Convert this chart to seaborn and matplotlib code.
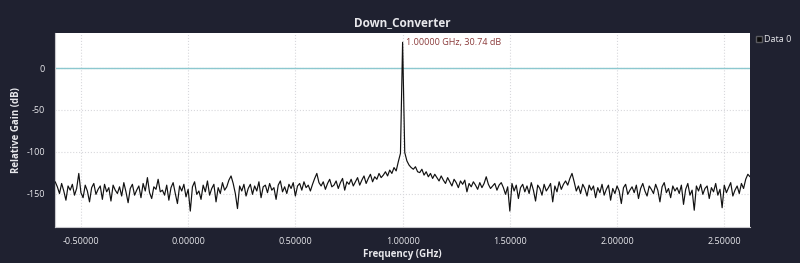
import numpy as np
import pandas as pd
import matplotlib
matplotlib.use("Agg")
import matplotlib.pyplot as plt
from matplotlib.ticker import MultipleLocator, FormatStrFormatter
from matplotlib.lines import Line2D
import seaborn as sns

title = "Down_Converter"
x_label = "Frequency (GHz)"
y_label = "Relative Gain (dB)"
series_name = "Data 0"
marker_text = "1.00000 GHz, 30.74 dB"
peak_freq = 1.0
peak_gain = 30.74
reference_level = 0.0

freq_start = -0.62
freq_step = 0.01

gain_db = [
    -136, -142, -150, -138, -147, -158, -141, -146, -139, -152,
    -144, -126, -149, -155, -140, -147, -160, -143, -138, -151,
    -145, -141, -157, -139, -148, -143, -159, -140, -146, -150,
    -142, -153, -137, -148, -161, -144, -139, -152, -146, -141,
    -155, -138, -147, -131, -149, -156, -142, -145, -133, -148,
    -146, -152, -140, -158, -143, -137, -150, -162, -141, -147,
    -139, -154, -145, -171, -142, -136, -151, -147, -157, -140,
    -148, -135, -152, -144, -139, -160, -143, -150, -137, -146,
    -142, -134, -129, -138, -150, -168, -141, -147, -139, -153,
    -144, -139, -151, -141, -147, -136, -155, -142, -140, -149,
    -138, -146, -143, -157, -140, -135, -148, -142, -150, -139,
    -144, -137, -153, -141, -138, -146, -136, -143, -140, -147,
    -139, -132, -126, -137, -141, -136, -145, -138, -133, -142,
    -140, -135, -144, -137, -132, -146, -136, -139, -133, -141,
    -136, -131, -140, -134, -129, -138, -132, -127, -136, -130,
    -133, -126, -131, -128, -124, -129, -122, -126, -119, -123,
    -112, -102, 30.74, -101, -111, -116, -119, -121, -118, -124,
    -125, -121, -128, -124, -130, -126, -132, -127, -131, -135,
    -129, -134, -138, -131, -136, -141, -133, -137, -143, -135,
    -139, -134, -148, -138, -142, -136, -140, -145, -137, -143,
    -138, -130, -139, -144, -141, -138, -146, -140, -137, -143,
    -151, -142, -171, -138, -147, -140, -156, -143, -139, -148,
    -141, -150, -137, -146, -159, -140, -144, -152, -139, -147,
    -143, -138, -160, -141, -148, -136, -145, -139, -135, -140,
    -132, -126, -136, -147, -141, -150, -139, -144, -153, -140,
    -146, -141, -155, -143, -149, -139, -152, -145, -140, -158,
    -144, -150, -141, -147, -162, -143, -139, -151, -146, -142,
    -149, -140, -156, -144, -138, -147, -153, -141, -145, -150,
    -139, -146, -160, -142, -137, -149, -144, -155, -141, -147,
    -143, -150, -140, -163, -145, -138, -152, -146, -170, -141,
    -147, -139, -151, -144, -141, -156, -143, -148, -138, -152,
    -145, -167, -140, -149, -143, -137, -153, -146, -141, -150,
    -138, -144, -133, -127, -130,
]

frequency = np.round(freq_start + freq_step * np.arange(len(gain_db)), 4)
df = pd.DataFrame({"Frequency": frequency, "Gain": gain_db})

sns.set_theme(style="white")
plt.rcParams["font.family"] = ["Open Sans", "DejaVu Sans"]

bg = "#1f2130"
fg = "#e8e8ec"

fig = plt.figure(figsize=(8.0, 2.63), dpi=100, facecolor=bg)
ax = fig.add_axes([0.069, 0.137, 0.8685, 0.738])
ax.set_facecolor("white")

ax.axhline(reference_level, color="#8cc8cf", lw=1.0, zorder=2)
sns.lineplot(data=df, x="Frequency", y="Gain", ax=ax, color="#111111",
             lw=0.85, estimator=None, sort=False, legend=False, zorder=3)

ax.set_xlim(-0.62, 2.62)
ax.set_ylim(-190, 42)

ax.xaxis.set_major_locator(MultipleLocator(0.5))
ax.xaxis.set_minor_locator(MultipleLocator(0.1))
ax.yaxis.set_major_locator(MultipleLocator(50))
ax.yaxis.set_minor_locator(MultipleLocator(10))
ax.xaxis.set_major_formatter(FormatStrFormatter("%.5f"))
ax.yaxis.set_major_formatter(FormatStrFormatter("%d"))

ax.grid(True, which="major", color="#d8d8dc", ls=":", lw=0.8, zorder=0)
ax.tick_params(axis="both", which="major", colors="#c8c8cc", labelcolor=fg,
               labelsize=6.5, length=4, width=0.8, direction="out")
ax.tick_params(axis="both", which="minor", colors="#c8c8cc",
               length=2, width=0.6, direction="out")
for side in ["top", "right"]:
    ax.spines[side].set_visible(False)
for side in ["left", "bottom"]:
    ax.spines[side].set_color("#c8c8cc")
    ax.spines[side].set_linewidth(0.8)

ax.set_xlabel(x_label, color=fg, fontsize=7, fontweight="bold", labelpad=2)
ax.set_ylabel(y_label, color=fg, fontsize=7, fontweight="bold", labelpad=3)
ax.set_title(title, color=fg, fontsize=8.5, fontweight="bold", pad=5)

ax.text(peak_freq + 0.015, peak_gain, marker_text, color="#8a3a3a",
        fontsize=6.5, ha="left", va="center", zorder=4)

handle = Line2D([], [], marker="s", color="none", markerfacecolor="#0a0a0a",
                markeredgecolor="#5a5a60", markersize=4, label=series_name)
leg = ax.legend(handles=[handle], loc="upper left", bbox_to_anchor=(1.0, 1.02),
                frameon=False, fontsize=6.5, handlelength=0.6,
                handletextpad=0.3, borderaxespad=0.3)
for t in leg.get_texts():
    t.set_color(fg)

fig.savefig("out.png", dpi=100, facecolor=bg)
